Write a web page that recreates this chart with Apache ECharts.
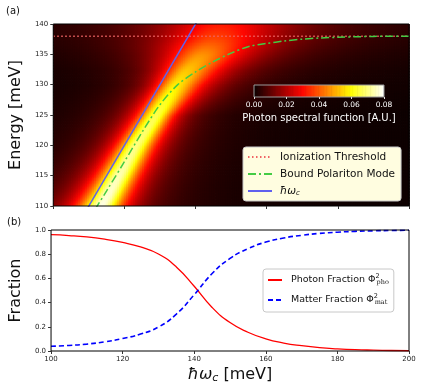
<!DOCTYPE html>
<html>
<head>
<meta charset="utf-8">
<title>Photon spectral function</title>
<script src="https://cdn.jsdelivr.net/npm/echarts@6/dist/echarts.min.js"></script>
<style>
  html, body { margin: 0; padding: 0; background: #fff; }
  #main { width: 423px; height: 391px; }
</style>
</head>
<body>
<div id="main"></div>
<script>
// cavity energy hbar*omega_c (meV)
var omegaC = [100, 105, 110, 115, 120, 125, 130, 135, 140, 145, 150, 155, 160, 165, 170, 175, 180, 185, 190, 195, 200];
// bound polariton mode energy (meV)
var boundMode = [98.2, 103.0, 107.8, 112.5, 117.3, 122.2, 126.7, 130.0, 132.1, 133.8, 135.2, 136.3, 136.8, 137.2, 137.5, 137.7, 137.8, 137.9, 137.95, 138.0, 138.0];
var threshold = 138;
// panel (b)
var photonFrac = [0.961, 0.954, 0.943, 0.924, 0.897, 0.860, 0.802, 0.695, 0.535, 0.360, 0.235, 0.155, 0.10, 0.066, 0.044, 0.028, 0.018, 0.011, 0.007, 0.004, 0.002];
var matterFrac = [0.039, 0.046, 0.057, 0.076, 0.103, 0.140, 0.198, 0.305, 0.465, 0.640, 0.765, 0.845, 0.90, 0.934, 0.956, 0.972, 0.982, 0.989, 0.993, 0.996, 0.998];

// bright band of the photon spectral function, read row by row
var bandRows   = [110, 115, 120, 125, 130, 132.5, 135, 137.5, 140];
var bandCenter = [113.5, 118.4, 123.2, 128.9, 134.3, 137.6, 141.5, 144.8, 147];
var bandPeak   = [0.078, 0.074, 0.070, 0.066, 0.058, 0.053, 0.047, 0.038, 0.032];
var bandWidthL = [6.5, 6, 5.5, 5.5, 5.5, 7, 10, 14, 17];
var bandWidthR = [5.8, 5.5, 5.4, 5, 8, 10, 13, 17, 20];

// matplotlib "hot"
var hotColors = ['#0b0000', '#5e0000', '#b20000', '#ff0700', '#ff5a00', '#ffae00', '#ffff04', '#ffff82', '#ffffff'];

function rowValue(arr, e) {
  for (var i = 0; i < bandRows.length - 1; i++) {
    if (e <= bandRows[i + 1]) {
      var t = (e - bandRows[i]) / (bandRows[i + 1] - bandRows[i]);
      return arr[i] + (arr[i + 1] - arr[i]) * t;
    }
  }
  return arr[arr.length - 1];
}

var heatCells = [];
for (var xi = 0; xi < 200; xi++) {
  for (var ei = 0; ei < 120; ei++) {
    var x = 100.25 + xi * 0.5, e = 110.125 + ei * 0.25;
    var c = rowValue(bandCenter, e);
    var w = x < c ? rowValue(bandWidthL, e) : rowValue(bandWidthR, e);
    var d = (x - c) / w;
    heatCells.push([x, e, rowValue(bandPeak, e) / (1 + d * d)]);
  }
}

var barSteps = [];
for (var k = 0; k <= 80; k++) barSteps.push([k * 0.001, 0.5, k * 0.001]);

function pairs(xs, ys) {
  return xs.map(function (v, i) { return [v, ys[i]]; });
}

var font = 'DejaVu Sans';
var myChart = echarts.init(document.getElementById('main'));

var option = {
  animation: false,
  textStyle: { fontFamily: font },
  title: [
    { text: '(a)', left: 6, top: 6, padding: 0, textStyle: { fontSize: 10, fontWeight: 'normal', color: '#111', fontFamily: font } },
    { text: '(b)', left: 7, top: 217, padding: 0, textStyle: { fontSize: 10, fontWeight: 'normal', color: '#111', fontFamily: font } }
  ],
  grid: [
    { left: 47, top: 24, width: 362, height: 182, show: true, borderColor: '#000', borderWidth: 1, backgroundColor: 'transparent', z: 5 },
    { left: 47, top: 230, width: 362, height: 121, show: true, borderColor: '#000', borderWidth: 1, backgroundColor: 'transparent', z: 5 },
    { left: 254, top: 85, width: 130, height: 12, show: true, borderColor: '#999', borderWidth: 1, backgroundColor: 'transparent', z: 5 }
  ],
  xAxis: [
    { gridIndex: 0, type: 'value', min: 100, max: 200, interval: 20, z: 5,
      axisLine: { show: false }, axisTick: { show: true, length: 3, lineStyle: { color: '#333' } },
      axisLabel: { show: false }, splitLine: { show: false } },
    { gridIndex: 1, type: 'value', min: 100, max: 200, interval: 20, z: 5,
      axisLine: { show: false }, axisTick: { show: true, length: 3, lineStyle: { color: '#333' } },
      axisLabel: { fontSize: 7, color: '#222', margin: 5, fontFamily: font }, splitLine: { show: false },
      name: '{i|ħω}{s|c} [meV]', nameLocation: 'middle', nameGap: 15,
      nameTextStyle: { fontSize: 16, color: '#111', fontFamily: font,
        rich: { i: { fontSize: 16, fontStyle: 'italic', fontFamily: font }, s: { fontSize: 11, fontStyle: 'italic', fontFamily: font, padding: [7, 0, 0, 0] } } } },
    { gridIndex: 2, type: 'value', min: 0, max: 0.08, interval: 0.02, z: 6,
      axisLine: { show: false }, axisTick: { show: true, length: 2, lineStyle: { color: '#ddd' } },
      axisLabel: { fontSize: 7.5, color: '#fff', margin: 4, fontFamily: font, formatter: function (v) { return v.toFixed(2); } },
      splitLine: { show: false },
      name: 'Photon spectral function [A.U.]', nameLocation: 'middle', nameGap: 16,
      nameTextStyle: { fontSize: 10, color: '#fff', fontFamily: font } }
  ],
  yAxis: [
    { gridIndex: 0, type: 'value', min: 110, max: 140, interval: 5, z: 5,
      axisLine: { show: false }, axisTick: { show: true, length: 3, lineStyle: { color: '#333' } },
      axisLabel: { fontSize: 7, color: '#222', margin: 5, fontFamily: font }, splitLine: { show: false },
      name: 'Energy [meV]', nameLocation: 'middle', nameGap: 24,
      nameTextStyle: { fontSize: 16, color: '#111', fontFamily: font } },
    { gridIndex: 1, type: 'value', min: 0, max: 1, interval: 0.2, z: 5,
      axisLine: { show: false }, axisTick: { show: true, length: 3, lineStyle: { color: '#333' } },
      axisLabel: { fontSize: 7, color: '#222', margin: 5, fontFamily: font, formatter: function (v) { return v.toFixed(1); } },
      splitLine: { show: false },
      name: 'Fraction', nameLocation: 'middle', nameGap: 23,
      nameTextStyle: { fontSize: 16, color: '#111', fontFamily: font } },
    { gridIndex: 2, type: 'value', min: 0, max: 1, show: false }
  ],
  visualMap: {
    show: false, type: 'continuous', min: 0, max: 0.08, dimension: 2,
    seriesIndex: [0, 6], inRange: { color: hotColors }
  },
  legend: [
    { data: ['Ionization Threshold', 'Bound Polariton Mode', 'ħω_c'],
      orient: 'vertical', left: 243, top: 147, padding: [3, 6, 3, 4], itemGap: 3,
      itemWidth: 24, itemHeight: 10, backgroundColor: '#fffde0', borderColor: '#c8c8c8', borderWidth: 1, borderRadius: 3,
      itemStyle: { opacity: 0 }, z: 8,
      formatter: function (n) { return n === 'ħω_c' ? '{i|ħω}{s|c}' : n; },
      textStyle: { fontSize: 10.5, color: '#111', lineHeight: 14, padding: [0, 0, 0, 3], fontFamily: font,
        rich: { i: { fontSize: 10.5, fontStyle: 'italic', fontFamily: font }, s: { fontSize: 7, fontStyle: 'italic', fontFamily: font, padding: [4, 0, 0, 0] } } } },
    { data: ['Photon Fraction', 'Matter Fraction'],
      orient: 'vertical', left: 263, top: 269, padding: [3, 5, 4, 4], itemGap: 4,
      itemWidth: 14, itemHeight: 10, backgroundColor: '#fff', borderColor: '#c8c8c8', borderWidth: 1, borderRadius: 3,
      itemStyle: { opacity: 0 }, z: 8,
      formatter: function (n) { return n === 'Photon Fraction' ? n + ' Φ{p|2}{b|pho}' : n + ' Φ{p|2}{b|mat}'; },
      textStyle: { fontSize: 9.5, color: '#111', lineHeight: 16, padding: [0, 0, 0, 4], fontFamily: font,
        rich: { p: { fontSize: 6.5, width: 0, padding: [0, 0, 7, 0], fontFamily: font }, b: { fontSize: 6.5, padding: [5, 0, 0, 1], fontFamily: 'DejaVu Serif' } } } }
  ],
  series: [
    { type: 'custom', xAxisIndex: 0, yAxisIndex: 0, data: heatCells, silent: true, clip: true, z: 1, progressive: 0,
      renderItem: function (params, api) {
        var p0 = api.coord([api.value(0) - 0.25, api.value(1) + 0.125]);
        var p1 = api.coord([api.value(0) + 0.25, api.value(1) - 0.125]);
        return { type: 'rect', shape: { x: p0[0], y: p0[1], width: p1[0] - p0[0] + 0.8, height: p1[1] - p0[1] + 0.8 },
          style: { fill: api.visual('color') } };
      } },
    { name: 'Ionization Threshold', type: 'line', xAxisIndex: 0, yAxisIndex: 0, symbol: 'none', z: 3,
      data: [[100, threshold], [200, threshold]], lineStyle: { color: '#f06464', width: 1.5, type: [1.5, 2.5] }, itemStyle: { color: '#f06464' } },
    { name: 'Bound Polariton Mode', type: 'line', xAxisIndex: 0, yAxisIndex: 0, symbol: 'none', smooth: 0.3, z: 3,
      data: pairs(omegaC, boundMode), lineStyle: { color: '#44cc44', width: 1.5, type: [8, 3, 2, 3] }, itemStyle: { color: '#44cc44' } },
    { name: 'ħω_c', type: 'line', xAxisIndex: 0, yAxisIndex: 0, symbol: 'none', z: 3,
      data: [[100, 100], [200, 200]], lineStyle: { color: '#6060ee', width: 1.5 }, itemStyle: { color: '#6060ee' } },
    { name: 'Photon Fraction', type: 'line', xAxisIndex: 1, yAxisIndex: 1, symbol: 'none', smooth: 0.5,
      data: pairs(omegaC, photonFrac), lineStyle: { color: '#ff0000', width: 1.3 }, itemStyle: { color: '#ff0000' } },
    { name: 'Matter Fraction', type: 'line', xAxisIndex: 1, yAxisIndex: 1, symbol: 'none', smooth: 0.5,
      data: pairs(omegaC, matterFrac), lineStyle: { color: '#0000ff', width: 1.6, type: [5, 3] }, itemStyle: { color: '#0000ff' } },
    { type: 'custom', xAxisIndex: 2, yAxisIndex: 2, data: barSteps, silent: true, clip: true, z: 4,
      renderItem: function (params, api) {
        var p0 = api.coord([api.value(0) - 0.0005, 1]);
        var p1 = api.coord([api.value(0) + 0.0005, 0]);
        return { type: 'rect', shape: { x: p0[0], y: p0[1], width: p1[0] - p0[0] + 0.6, height: p1[1] - p0[1] },
          style: { fill: api.visual('color') } };
      } }
  ]
};

myChart.setOption(option);
</script>
</body>
</html>
